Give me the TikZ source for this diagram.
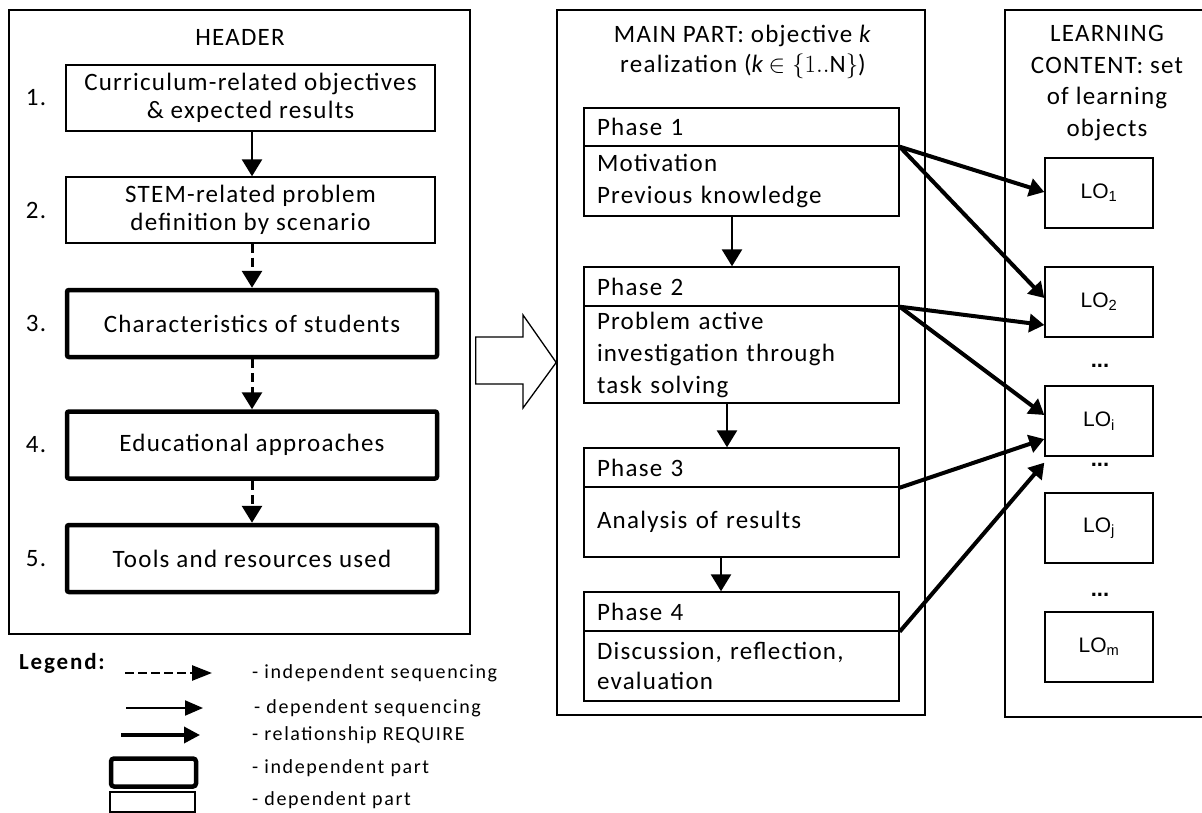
\documentclass[tikz,border=0pt]{standalone}
\usepackage{fontspec}
\setmainfont{Carlito}[LetterSpace=5]
\newfontfamily\legendfont{Carlito}[LetterSpace=8]
\newfontfamily\lofont{Liberation Sans}
\usetikzlibrary{arrows.meta}

\newcommand\bodysize{\fontsize{25}{28}\selectfont}
\newcommand\phasesize{\fontsize{25}{32}\selectfont}

\tikzset{
  frame/.style={draw, line width=1.6pt, inner sep=0pt},
  thinbox/.style={draw, line width=1.4pt, minimum width=369pt, minimum height=66pt,
    align=center, inner sep=0pt, font=\bodysize},
  thickbox/.style={draw, line width=4.5pt, rounded corners=2pt, minimum width=370pt,
    minimum height=67pt, align=center, inner sep=0pt, font=\bodysize},
  numlabel/.style={font=\bodysize, inner sep=0pt},
  titletext/.style={font=\fontsize{25}{30}\selectfont, align=center, inner sep=0pt},
  phasebox/.style={draw, line width=1.4pt, text width=289pt, inner xsep=13pt,
    inner ysep=0pt, align=left, font=\phasesize},
  lobox/.style={draw, line width=1.4pt, minimum width=108pt, minimum height=70pt,
    inner sep=0pt, font=\lofont\fontsize{21}{24}\selectfont},
  dots/.style={font=\lofont\bfseries\fontsize{22}{24}\selectfont, inner sep=0pt},
  seqarrow/.style={line width=2.7pt, -{Triangle[length=17pt,width=20pt]}},
  indarrow/.style={line width=3pt, dash pattern=on 9pt off 5pt,
    -{Triangle[length=17pt,width=20pt]}},
  reqarrow/.style={line width=4pt, -{Triangle[length=15pt,width=18pt]}},
  legendtext/.style={font=\legendfont\fontsize{20}{24}\selectfont, anchor=west, inner sep=0pt},
  legendbox/.style={draw, inner sep=0pt, minimum width=85pt},
}

\begin{document}
\begin{tikzpicture}[x=1pt, y=-1pt]
\useasboundingbox[fill=white] (0,0) rectangle (1202,813);

% ---------- header column ----------
\node[frame, minimum width=461pt, minimum height=624pt] (hdr) at (239.5,322) {};
\node[titletext] (hdrtitle) at (240,37) {HEADER};

\node[thinbox] (b1) at (250.5,98) {Curriculum-related objectives\\\& expected results};
\node[thinbox] (b2) at (250.5,210) {STEM-related problem\\definition by scenario};
\node[thickbox] (b3) at (252,323.5) {Characteristics of students};
\node[thickbox] (b4) at (252,445) {Educational approaches};
\node[thickbox] (b5) at (252,558.5) {Tools and resources used};

\node[numlabel] (n1) at (36,98) {1.};
\node[numlabel] (n2) at (36,210) {2.};
\node[numlabel] (n3) at (36,323.5) {3.};
\node[numlabel] (n4) at (36,445) {4.};
\node[numlabel] (n5) at (36,558.5) {5.};

\draw[seqarrow] ([xshift=1.5pt]b1.south) -- ([xshift=1.5pt]b2.north);
\draw[indarrow] ([xshift=1.5pt]b2.south) -- (b3.north);
\draw[indarrow] (b3.south) -- (b4.north);
\draw[indarrow] (b4.south) -- (b5.north);

% ---------- main part column ----------
\node[frame, minimum width=368pt, minimum height=705pt] (main) at (741,362.5) {};
\node[titletext] (maintitle) at (743,52)
  {MAIN PART: objective \textit{k}\\realization (\textit{k}\,$\in\{1..\mathrm{N}\}$)};

% hollow arrow from the header into the main part
\draw[line width=1.3pt, line join=miter]
  ([xshift=5pt]hdr.east |- 0,337) -- (523,337) -- (523,315) -- (main.west)
  -- (523,408) -- (523,384) -- ([xshift=5pt]hdr.east |- 0,384) -- cycle;

\node[phasebox, minimum height=38pt] (p1h) at (741.5,127) {Phase 1};
\node[phasebox, minimum height=70pt] (p1b) at (741.5,181) {Motivation\\Previous knowledge};
\node[phasebox, minimum height=39pt] (p2h) at (741.5,286.5) {Phase 2};
\node[phasebox, minimum height=97pt] (p2b) at (741.5,354.5)
  {Problem active\\investigation through\\task solving};
\node[phasebox, minimum height=39pt] (p3h) at (741.5,467.5) {Phase 3};
\node[phasebox, minimum height=70pt] (p3b) at (741.5,522) {Analysis of results};
\node[phasebox, minimum height=39pt] (p4h) at (741.5,611.5) {Phase 4};
\node[phasebox, minimum height=70pt, font=\fontsize{25}{30}\selectfont] (p4b) at (741.5,666)
  {Discussion, reflection,\\evaluation};

\draw[seqarrow] ([xshift=-9.5pt]p1b.south) -- ([xshift=-9.5pt]p2h.north);
\draw[seqarrow] ([xshift=-14.5pt]p2b.south) -- ([xshift=-14.5pt]p3h.north);
\draw[seqarrow] ([xshift=-20.5pt]p3b.south) -- ([xshift=-20.5pt]p4h.north);

% ---------- learning content column ----------
\coordinate (lctr) at (1202,10);
\coordinate (lcbr) at (1202,717);
\draw[line width=1.6pt] (lctr) -- (1005,10) -- (1005,717) -- (lcbr);
\node[titletext, font=\fontsize{25}{31.5}\selectfont] (lctitle) at (1107,83)
  {LEARNING\\CONTENT: set\\of learning\\objects};

\node[lobox] (lo1) at (1099,193) {LO\textsubscript{1}};
\node[lobox] (lo2) at (1099,302) {LO\textsubscript{2}};
\node[lobox] (loi) at (1099,421) {LO\textsubscript{i}};
\node[lobox] (loj) at (1099,528) {LO\textsubscript{j}};
\node[lobox] (lom) at (1099,647) {LO\textsubscript{m}};
\node[dots] (d1) at (1100,366) {...};
\node[dots] (d2) at (1100,465) {...};
\node[dots] (d3) at (1100,595) {...};

% REQUIRE relationships
\draw[reqarrow] (p1h.south east) -- ([yshift=1pt]lo1.west);
\draw[reqarrow] (p1h.south east) -- ([yshift=4pt]lo2.west);
\draw[reqarrow] (p2h.south east) -- ([yshift=-23pt]lo2.west);
\draw[reqarrow] (p2h.south east) -- ([yshift=6pt]loi.west);
\draw[reqarrow] (p3h.south east) -- ([yshift=-18pt]loi.west);
\draw[reqarrow] (p4h.south east) -- ([yshift=-6pt]loi.south west);

% ---------- legend ----------
\node[font=\legendfont\bfseries\fontsize{23}{26}\selectfont, inner sep=0pt] (legtitle) at (62,663) {Legend:};

\coordinate (la1) at (125,673);
\coordinate (la2) at (212,673);
\draw[line width=2.5pt, dash pattern=on 9pt off 4pt, -{Triangle[length=20pt,width=15pt]}] (la1) -- (la2);
\node[legendtext] (lt1) at (252,673) {- independent sequencing};

\coordinate (lb1) at (126,708);
\coordinate (lb2) at (203,708);
\draw[line width=2pt, -{Triangle[length=18pt,width=15pt]}] (lb1) -- (lb2);
\node[legendtext] (lt2) at (254,708) {- dependent sequencing};

\coordinate (lc1) at (121,735);
\coordinate (lc2) at (200,735);
\draw[line width=3.5pt, -{Triangle[length=16pt,width=16pt]}] (lc1) -- (lc2);
\node[legendtext] (lt3) at (252,735) {- relationship REQUIRE};

\node[legendbox, line width=4.5pt, rounded corners=3pt, minimum height=28pt] (lk1) at (153.5,772.5) {};
\node[legendtext] (lt4) at (252,768) {- independent part};

\node[legendbox, line width=1.4pt, minimum height=20pt] (lk2) at (152.5,802) {};
\node[legendtext] (lt5) at (252,800) {- dependent part};
\end{tikzpicture}
\end{document}
